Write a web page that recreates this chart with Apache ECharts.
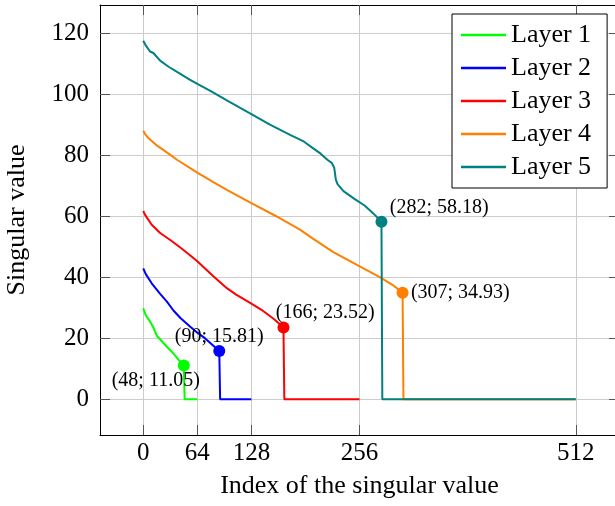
<!DOCTYPE html>
<html><head><meta charset="utf-8">
<script src="https://cdn.jsdelivr.net/npm/echarts@6/dist/echarts.min.js"></script>
<style>html,body{margin:0;padding:0;background:#fff}#c{width:615px;height:506px}</style>
</head><body><div id="c"></div><script>
const layerNames = ['Layer 1', 'Layer 2', 'Layer 3', 'Layer 4', 'Layer 5'];
const layer1 = [[0,29.8],[3,27.5],[8,25.5],[12,23.5],[16,20.8],[22,19],[28,17.2],[35,15.2],[42,12.9],[48,11.05],[49,0],[64,0]];
const layer2 = [[0,42.9],[3,41],[10,38],[20,34.5],[28,32],[36,29],[44,26.6],[55,23.9],[64,21.8],[73,20],[82,17.8],[90,15.81],[91,0],[128,0]];
const layer3 = [[0,61.7],[2,60.5],[10,57.2],[20,54.5],[32,52.2],[45,49.5],[55,47.3],[64,45.2],[83,40.3],[99,36.4],[110,34.3],[127,31.5],[140,29.3],[155,26.2],[166,23.52],[167,0],[256,0]];
const layer4 = [[0,88],[2,87],[6,85.6],[16,83.2],[30,80.5],[40,78.5],[64,74.3],[83,71.2],[100,68.5],[128,64.3],[158,59.9],[186,55.5],[200,52.8],[225,48.2],[253,44],[280,40],[295,37.5],[307,34.93],[308,0],[512,0]];
const layer5 = [[0,117.5],[3,116],[8,114],[12,113.5],[20,111],[30,109],[40,107.3],[55,104.8],[64,103.4],[80,101],[100,97.8],[128,93.5],[150,90],[175,86.5],[190,84.5],[200,82.5],[210,80.5],[218,78.5],[223,77.5],[226,76],[228,72],[230,70.5],[237,68.2],[250,65.7],[262,63.5],[272,61],[282,58.18],[283,0],[512,0]];
const rankPoints = [[48,11.05],[90,15.81],[166,23.52],[307,34.93],[282,58.18]];
const xTicks = [0, 64, 128, 256, 512];
const yTicks = [0, 20, 40, 60, 80, 100, 120];

const layers = [layer1, layer2, layer3, layer4, layer5];
const colors = ['#00ff00', '#0000ff', '#ff0000', '#ff8000', '#008080'];
// label placement (style only): [align, dx, dy] relative to marker center
const labelPlacement = [['right', 16, 15], ['center', 0, -14.5], ['left', -7.7, -15], ['left', 8.3, 0], ['left', 8.3, -14.4]];
const font = 'Liberation Serif';
const xMin = -51.2, xMax = 563.2, yMin = -11.75, yMax = 129.25;

const series = [];
layers.forEach((d, i) => {
  series.push({
    name: layerNames[i], type: 'line', data: d, symbol: 'none', showSymbol: false, z: 2 + i,
    lineStyle: { color: colors[i], width: 2 }, itemStyle: { color: colors[i] },
    animation: false
  });
});
rankPoints.forEach((p, i) => {
  const lp = labelPlacement[i];
  series.push({
    name: 'rank' + i, type: 'scatter', z: 10, symbolSize: 12, animation: false,
    itemStyle: { color: colors[i], opacity: 1 },
    data: [p],
    label: {
      show: true, position: 'inside', align: lp[0], verticalAlign: 'middle',
      offset: [lp[1], lp[2]], formatter: '(' + p[0] + '; ' + p[1] + ')',
      fontFamily: font, fontSize: 20, color: '#000'
    }
  });
});

const baseX = {
  type: 'value', min: xMin, max: xMax,
  axisLine: { show: true, onZero: false, lineStyle: { color: '#000', width: 1 } },
  axisTick: { show: true, inside: true, length: 10, customValues: xTicks, lineStyle: { color: '#555' } },
};
const baseY = {
  type: 'value', min: yMin, max: yMax,
  axisLine: { show: true, onZero: false, lineStyle: { color: '#000', width: 1 } },
  axisTick: { show: true, inside: true, length: 10, customValues: yTicks, lineStyle: { color: '#555' } },
};

const option = {
  animation: false,
  backgroundColor: '#fff',
  grid: { left: 100, top: 5, right: -4, bottom: 71, containLabel: false, outerBoundsMode: 'none' },
  xAxis: [
    Object.assign({}, baseX, {
      position: 'bottom',
      name: 'Index of the singular value', nameLocation: 'middle', nameGap: 38,
      nameTextStyle: { fontFamily: font, fontSize: 26, color: '#000' },
      axisLabel: { customValues: xTicks, fontFamily: font, fontSize: 25, color: '#000', margin: 6 },
      splitLine: { show: true, lineStyle: { color: '#cccccc', width: 1 } }
    }),
    Object.assign({}, baseX, { position: 'top', axisLabel: { show: false }, splitLine: { show: false } })
  ],
  yAxis: [
    Object.assign({}, baseY, {
      position: 'left',
      name: 'Singular value', nameLocation: 'middle', nameGap: 70, nameRotate: 90,
      nameTextStyle: { fontFamily: font, fontSize: 26, color: '#000' },
      axisLabel: { customValues: yTicks, fontFamily: font, fontSize: 25, color: '#000', margin: 11 },
      splitLine: { show: true, lineStyle: { color: '#cccccc', width: 1 } }
    }),
    Object.assign({}, baseY, { position: 'right', axisLabel: { show: false }, splitLine: { show: false } })
  ],
  legend: {
    data: layerNames.map((n, i) => ({ name: n, icon: 'rect', itemStyle: { color: colors[i] } })),
    orient: 'vertical', left: 452, top: 14,
    padding: [8, 16, 8, 9], itemWidth: 45, itemHeight: 2.5, itemGap: 7,
    borderColor: '#000', borderWidth: 1, borderRadius: 0, backgroundColor: '#fff',
    textStyle: { fontFamily: font, fontSize: 26, color: '#000', lineHeight: 26 }
  },
  series: series
};
const chart = echarts.init(document.getElementById('c'), null, { renderer: 'canvas' });
chart.setOption(option);
</script></body></html>
